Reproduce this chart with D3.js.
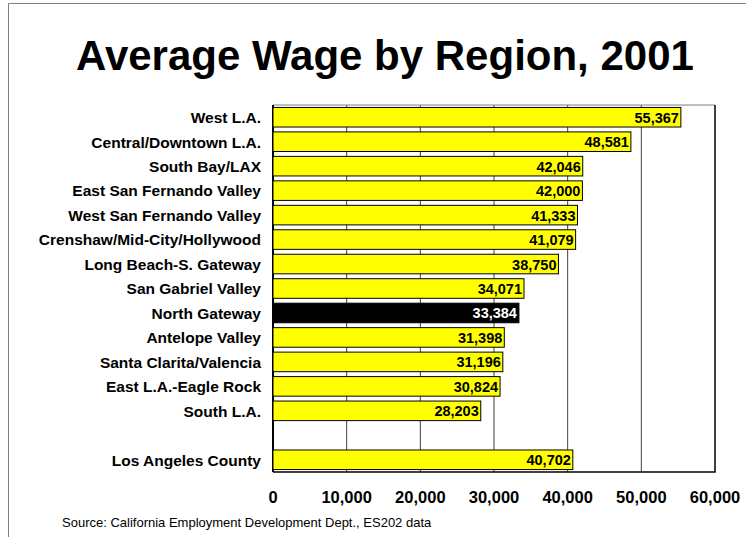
<!DOCTYPE html>
<html>
<head>
<meta charset="utf-8">
<script src="https://cdn.jsdelivr.net/npm/d3@7"></script>
<style>
  body { margin: 0; background: #fff; }
  text { font-family: "Liberation Sans", Arial, sans-serif; }
</style>
</head>
<body>
<div id="mainDiv"></div>
<script>
var regions = ["West L.A.", "Central/Downtown L.A.", "South Bay/LAX", "East San Fernando Valley",
               "West San Fernando Valley", "Crenshaw/Mid-City/Hollywood", "Long Beach-S. Gateway",
               "San Gabriel Valley", "North Gateway", "Antelope Valley", "Santa Clarita/Valencia",
               "East L.A.-Eagle Rock", "South L.A.", "", "Los Angeles County"];
var wages = [55367, 48581, 42046, 42000, 41333, 41079, 38750, 34071, 33384, 31398, 31196, 30824, 28203, null, 40702];
var highlight = ["North Gateway"];
var xTicks = [0, 10000, 20000, 30000, 40000, 50000, 60000];

var width = 746, height = 537;
var plotL = 273, plotR = 715, plotT = 105, plotB = 472;

var mySvg = d3.select("#mainDiv").append("svg")
              .attr("width", width)
              .attr("height", height);

// page frame
mySvg.append("path")
     .attr("d", "M8.5," + height + "V3.5H" + width)
     .attr("fill", "none")
     .attr("stroke", "#808080")
     .attr("stroke-width", 1);

mySvg.append("text")
     .text("Average Wage by Region, 2001")
     .attr("x", 385)
     .attr("y", 70)
     .attr("text-anchor", "middle")
     .attr("font-size", 42)
     .attr("font-weight", "bold");

var x = d3.scaleLinear().domain([0, 60000]).range([plotL, plotR]);
var y = d3.scaleBand().domain(d3.range(regions.length)).range([plotT, plotB])
          .paddingInner(0.2).paddingOuter(0.1);

// gridlines
mySvg.append("g").selectAll("line")
     .data(xTicks.slice(1, -1))
     .join("line")
     .attr("x1", function(d) { return x(d); })
     .attr("x2", function(d) { return x(d); })
     .attr("y1", plotT)
     .attr("y2", plotB)
     .attr("stroke", "#404040")
     .attr("stroke-width", 1);

// plot frame
mySvg.append("line").attr("x1", plotL).attr("x2", plotR).attr("y1", plotT).attr("y2", plotT)
     .attr("stroke", "#808080").attr("stroke-width", 1);
mySvg.append("path")
     .attr("d", "M" + plotR + "," + plotT + "V" + plotB + "H" + plotL)
     .attr("fill", "none").attr("stroke", "#000").attr("stroke-width", 1.5);
mySvg.append("line").attr("x1", plotL).attr("x2", plotL).attr("y1", plotT).attr("y2", plotB)
     .attr("stroke", "#000").attr("stroke-width", 2);

var rows = regions.map(function(r, i) { return { name: r, value: wages[i], i: i }; })
                  .filter(function(d) { return d.value != null; });

mySvg.append("g").selectAll("rect")
     .data(rows)
     .join("rect")
     .attr("x", plotL)
     .attr("y", function(d) { return y(d.i); })
     .attr("width", function(d) { return x(d.value) - plotL; })
     .attr("height", y.bandwidth())
     .attr("fill", function(d) { return highlight.indexOf(d.name) >= 0 ? "#000" : "#ffff00"; })
     .attr("stroke", "#000")
     .attr("stroke-width", 1);

mySvg.append("g").selectAll("text")
     .data(rows)
     .join("text")
     .text(function(d) { return d3.format(",")(d.value); })
     .attr("x", function(d) { return x(d.value) - 2; })
     .attr("y", function(d) { return y(d.i) + y.bandwidth() / 2 + 5.5; })
     .attr("text-anchor", "end")
     .attr("font-size", 14.5)
     .attr("font-weight", "bold")
     .attr("fill", function(d) { return highlight.indexOf(d.name) >= 0 ? "#fff" : "#000"; });

// category labels
mySvg.append("g").selectAll("text")
     .data(rows)
     .join("text")
     .text(function(d) { return d.name; })
     .attr("x", 261)
     .attr("y", function(d) { return y(d.i) + y.bandwidth() / 2 + 5.8; })
     .attr("text-anchor", "end")
     .attr("font-size", 15.5)
     .attr("font-weight", "bold");

// x tick labels
mySvg.append("g").selectAll("text")
     .data(xTicks)
     .join("text")
     .text(function(d) { return d3.format(",")(d); })
     .attr("x", function(d) { return x(d); })
     .attr("y", 503)
     .attr("text-anchor", "middle")
     .attr("font-size", 16.5)
     .attr("font-weight", "bold");

mySvg.append("text")
     .text("Source: California Employment Development Dept., ES202 data")
     .attr("x", 62)
     .attr("y", 527)
     .attr("font-size", 13);
</script>
</body>
</html>
